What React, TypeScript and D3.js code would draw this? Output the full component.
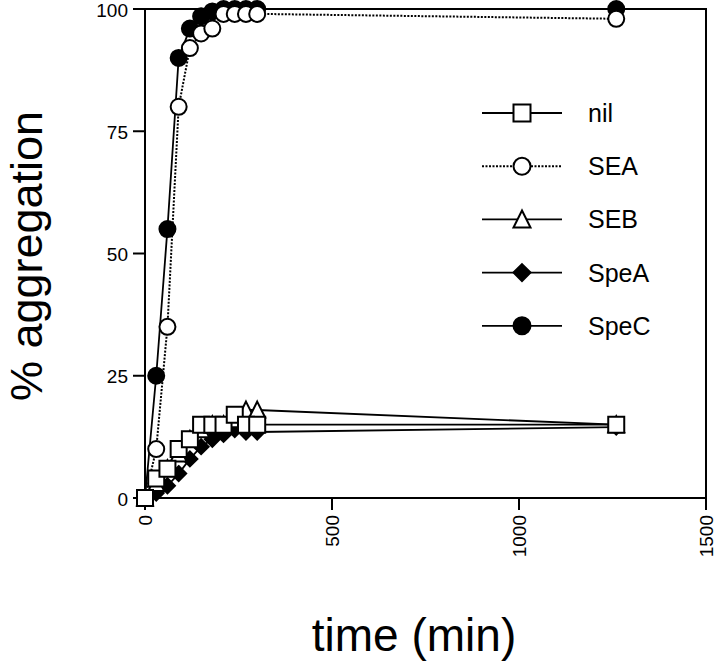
import React from "react";
import * as d3 from "d3";

const times = [0, 30, 60, 90, 120, 150, 180, 210, 240, 270, 300, 1260];
const nilValues = [0, 4, 6, 10, 12, 15, 15, 15, 17, 15, 15, 15];
const seaValues = [0, 10, 35, 80, 92, 95, 96, 99, 99, 99, 99, 98];
const sebValues = [0, 3, 6, 9, 12, 14, 15, 15, 16, 18, 18, 15];
const speaValues = [0, 1, 2.5, 5, 8, 10.5, 12, 13, 14, 13.5, 13.5, 14.5];
const specValues = [0, 25, 55, 90, 96, 98.5, 99.5, 100, 100, 100, 100, 100];

const xTicks = [0, 500, 1000, 1500];
const yTicks = [0, 25, 50, 75, 100];

type Shape = "square" | "circle" | "triangle" | "diamond";
interface Series {
  name: string;
  values: number[];
  shape: Shape;
  fill: string;
  dash?: string;
}

const legendOrder: Series[] = [
  { name: "nil", values: nilValues, shape: "square", fill: "#fff" },
  { name: "SEA", values: seaValues, shape: "circle", fill: "#fff", dash: "2,1.5" },
  { name: "SEB", values: sebValues, shape: "triangle", fill: "#fff" },
  { name: "SpeA", values: speaValues, shape: "diamond", fill: "#000" },
  { name: "SpeC", values: specValues, shape: "circle", fill: "#000" },
];
// drawing order (back to front)
const drawOrder = ["SpeC", "SpeA", "SEB", "SEA", "nil"];

const W = 720;
const H = 664;
const x = d3.scaleLinear().domain([0, 1500]).range([145, 706]);
const y = d3.scaleLinear().domain([0, 100]).range([498, 9]);

function markerPath(shape: Shape, s: number): string {
  const h = s / 2;
  switch (shape) {
    case "square":
      return `M${-h},${-h}H${h}V${h}H${-h}Z`;
    case "circle":
      return `M${h},0A${h},${h} 0 1,1 ${-h},0A${h},${h} 0 1,1 ${h},0Z`;
    case "triangle":
      return `M0,${-h * 1.05}L${h},${h * 0.95}L${-h},${h * 0.95}Z`;
    case "diamond":
      return `M0,${-h}L${h},0L0,${h}L${-h},0Z`;
  }
}

const FONT = "'Liberation Sans', Arial, Helvetica, sans-serif";

export default function App() {
  const line = d3
    .line<number>()
    .x((_, i) => x(times[i]))
    .y((v) => y(v));

  const series = drawOrder.map((n) => legendOrder.find((s) => s.name === n)!);

  return (
    <svg
      width={W}
      height={H}
      style={{ position: "absolute", left: 0, top: 0, background: "#fff" }}
      fontFamily={FONT}
    >
      <rect x={0} y={0} width={W} height={H} fill="#fff" />
      {/* frame */}
      <rect
        x={x(0)}
        y={y(100)}
        width={x(1500) - x(0)}
        height={y(0) - y(100)}
        fill="none"
        stroke="#000"
        strokeWidth={2}
      />
      {/* y ticks */}
      {yTicks.map((t) => (
        <g key={"y" + t}>
          <line x1={x(0) - 12} x2={x(0)} y1={y(t)} y2={y(t)} stroke="#000" strokeWidth={2} />
          <text x={x(0) - 17} y={y(t) + 1} dy="0.35em" textAnchor="end" fontSize={19}>
            {t}
          </text>
        </g>
      ))}
      {/* x ticks */}
      {xTicks.map((t) => (
        <g key={"x" + t}>
          <line x1={x(t)} x2={x(t)} y1={y(0)} y2={y(0) + 12} stroke="#000" strokeWidth={2} />
          <text
            transform={`translate(${x(t)},${y(0) + 17}) rotate(-90)`}
            dy="0.35em"
            textAnchor="end"
            fontSize={19}
          >
            {t}
          </text>
        </g>
      ))}
      {/* series lines */}
      {series.map((s) => (
        <path
          key={"l" + s.name}
          d={line(s.values) || ""}
          fill="none"
          stroke="#000"
          strokeWidth={s.dash ? 2 : 1.8}
          strokeDasharray={s.dash}
        />
      ))}
      {/* markers */}
      {series.map((s) => (
        <g key={"m" + s.name}>
          {s.values.map((v, i) => (
            <path
              key={i}
              d={markerPath(s.shape, s.shape === "diamond" ? 15 : 16)}
              transform={`translate(${x(times[i])},${y(v)})`}
              fill={s.fill}
              stroke="#000"
              strokeWidth={2}
            />
          ))}
        </g>
      ))}
      {/* legend */}
      {legendOrder.map((s, i) => {
        const ly = 113 + i * 53.2;
        return (
          <g key={"lg" + s.name}>
            <line
              x1={482}
              x2={562}
              y1={ly}
              y2={ly}
              stroke="#000"
              strokeWidth={s.dash ? 2 : 1.8}
              strokeDasharray={s.dash}
            />
            <path
              d={markerPath(s.shape, 17)}
              transform={`translate(522,${ly})`}
              fill={s.fill}
              stroke="#000"
              strokeWidth={2}
            />
            <text x={588} y={ly} dy="0.36em" fontSize={25}>
              {s.name}
            </text>
          </g>
        );
      })}
      {/* axis titles */}
      <text x={414} y={651} textAnchor="middle" fontSize={46}>
        time (min)
      </text>
      <text
        transform={`translate(42,256) rotate(-90)`}
        textAnchor="middle"
        fontSize={45}
      >
        % aggregation
      </text>
    </svg>
  );
}
